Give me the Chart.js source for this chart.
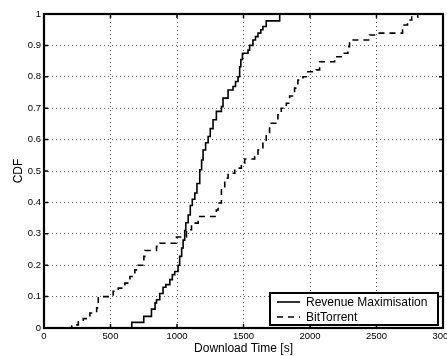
<!DOCTYPE html>
<html><head><meta charset="utf-8">
<script src="https://cdn.jsdelivr.net/npm/chart.js@4/dist/chart.umd.min.js"></script>
<style>html,body{margin:0;padding:0;background:#fff;}canvas{display:block;}</style>
</head><body>
<canvas id="c" width="447" height="356"></canvas>
<script>
const xTicks = [0, 500, 1000, 1500, 2000, 2500, 3000];
const yTicks = [0, 0.1, 0.2, 0.3, 0.4, 0.5, 0.6, 0.7, 0.8, 0.9, 1];
const seriesNames = ['Revenue Maximisation', 'BitTorrent'];
const xTitle = 'Download Time [s]';
const yTitle = 'CDF';

const rmTime = [620, 660, 750, 808, 835, 846, 870, 895, 916, 946, 965, 983, 1008, 1020, 1035, 1046, 1058, 1066, 1084, 1100, 1115, 1134, 1150, 1171, 1185, 1196, 1215, 1234, 1250, 1271, 1296, 1334, 1346, 1384, 1421, 1440, 1459, 1471, 1480, 1492, 1534, 1546, 1571, 1590, 1609, 1630, 1646, 1671, 1772, 3000];
const rmCdf  = [0, 0.018, 0.037, 0.06, 0.08, 0.09, 0.11, 0.13, 0.138, 0.154, 0.17, 0.18, 0.2, 0.228, 0.255, 0.28, 0.31, 0.335, 0.36, 0.39, 0.41, 0.43, 0.46, 0.504, 0.535, 0.567, 0.59, 0.61, 0.635, 0.663, 0.69, 0.705, 0.732, 0.758, 0.769, 0.785, 0.8, 0.832, 0.855, 0.875, 0.885, 0.9, 0.917, 0.928, 0.939, 0.95, 0.96, 0.978, 1, 1];

const btTime = [183, 208, 258, 295, 345, 396, 408, 520, 558, 608, 646, 683, 708, 751, 758, 846, 871, 996, 1071, 1109, 1159, 1296, 1309, 1334, 1359, 1384, 1434, 1484, 1509, 1584, 1609, 1646, 1671, 1696, 1709, 1759, 1784, 1822, 1847, 1884, 1909, 1947, 1984, 2047, 2072, 2185, 2247, 2285, 2297, 2447, 2485, 2696, 2733, 2765, 2810];
const btCdf  = [0, 0.01, 0.02, 0.03, 0.048, 0.064, 0.1, 0.117, 0.127, 0.143, 0.164, 0.185, 0.2, 0.228, 0.247, 0.26, 0.27, 0.29, 0.313, 0.334, 0.355, 0.376, 0.398, 0.44, 0.477, 0.493, 0.509, 0.525, 0.538, 0.551, 0.567, 0.594, 0.615, 0.641, 0.652, 0.679, 0.7, 0.716, 0.739, 0.764, 0.79, 0.8, 0.816, 0.822, 0.848, 0.864, 0.875, 0.896, 0.917, 0.933, 0.939, 0.965, 0.981, 0.99, 1];

const FONT = "'Liberation Sans', Arial, Helvetica, sans-serif";

const toPts = (xs, ys) => xs.map((v, i) => ({x: v, y: ys[i]}));

const framePlugin = {
  id: 'frame',
  afterDatasetsDraw(chart) {
    const {ctx, chartArea: a, scales: {x, y}} = chart;
    ctx.save();
    ctx.strokeStyle = '#000';
    ctx.lineWidth = 1.5;
    ctx.beginPath();
    xTicks.forEach(v => {
      const px = x.getPixelForValue(v);
      ctx.moveTo(px, a.bottom); ctx.lineTo(px, a.bottom - 4);
      ctx.moveTo(px, a.top); ctx.lineTo(px, a.top + 4);
    });
    yTicks.forEach(v => {
      const py = y.getPixelForValue(v);
      ctx.moveTo(a.left, py); ctx.lineTo(a.left + 4, py);
      ctx.moveTo(a.right, py); ctx.lineTo(a.right - 4, py);
    });
    ctx.stroke();
    ctx.lineWidth = 2.2;
    ctx.strokeRect(a.left, a.top, a.right - a.left, a.bottom - a.top);
    ctx.restore();
  }
};

const legendPlugin = {
  id: 'boxLegend',
  afterDraw(chart) {
    const {ctx, chartArea: a} = chart;
    const w = 168, h = 32;
    const left = a.right - 5 - w, top = a.bottom - 3 - h;
    ctx.save();
    ctx.fillStyle = '#fff';
    ctx.fillRect(left, top, w, h);
    ctx.strokeStyle = '#000';
    ctx.lineWidth = 2;
    ctx.strokeRect(left, top, w, h);
    ctx.font = '12px ' + FONT;
    ctx.textBaseline = 'middle';
    ctx.textAlign = 'left';
    chart.data.datasets.forEach((ds, i) => {
      const yy = top + 9 + i * 15;
      ctx.beginPath();
      ctx.lineWidth = ds.borderWidth;
      ctx.setLineDash(ds.borderDash || []);
      ctx.moveTo(left + 7, yy); ctx.lineTo(left + 30, yy);
      ctx.stroke();
      ctx.setLineDash([]);
      ctx.fillStyle = '#000';
      ctx.fillText(ds.label, left + 36, yy + 0.5);
    });
    ctx.restore();
  }
};

const gridOpts = {color: 'rgba(0,0,0,0.6)', lineWidth: 1, drawTicks: false};
const borderOpts = {display: false, dash: [1, 3]};

new Chart(document.getElementById('c'), {
  type: 'line',
  data: {
    datasets: [
      {label: seriesNames[0], data: toPts(rmTime, rmCdf), borderColor: '#000', borderWidth: 1.6, stepped: 'before', pointRadius: 0, fill: false},
      {label: seriesNames[1], data: toPts(btTime, btCdf), borderColor: '#000', borderWidth: 1.6, borderDash: [6, 5], stepped: 'before', pointRadius: 0, fill: false}
    ]
  },
  options: {
    responsive: false,
    devicePixelRatio: 1,
    animation: false,
    layout: {padding: {left: 0, top: 14, right: 4, bottom: 0}},
    plugins: {legend: {display: false}, tooltip: {enabled: false}},
    scales: {
      x: {
        type: 'linear', min: 0, max: 3000,
        afterBuildTicks: s => { s.ticks = xTicks.map(v => ({value: v})); },
        afterFit: s => { s.height = 28; s.paddingLeft = 0; s.paddingRight = 0; },
        border: borderOpts,
        grid: gridOpts,
        ticks: {color: '#000', font: {family: FONT, size: 9.5}, padding: 3, maxRotation: 0, autoSkip: false, callback: v => String(v)},
        title: {display: true, text: xTitle, color: '#000', font: {family: FONT, size: 12}, padding: {top: 0, bottom: 0}}
      },
      y: {
        type: 'linear', min: 0, max: 1,
        afterBuildTicks: s => { s.ticks = yTicks.map(v => ({value: v})); },
        afterFit: s => { s.width = 44; s.paddingTop = 0; s.paddingBottom = 0; },
        border: borderOpts,
        grid: gridOpts,
        ticks: {color: '#000', font: {family: FONT, size: 9.5}, padding: 3, autoSkip: false, callback: v => String(v)},
        title: {display: true, text: yTitle, color: '#000', font: {family: FONT, size: 12}, padding: {top: 11, bottom: 0}}
      }
    }
  },
  plugins: [framePlugin, legendPlugin]
});
</script>
</body></html>
